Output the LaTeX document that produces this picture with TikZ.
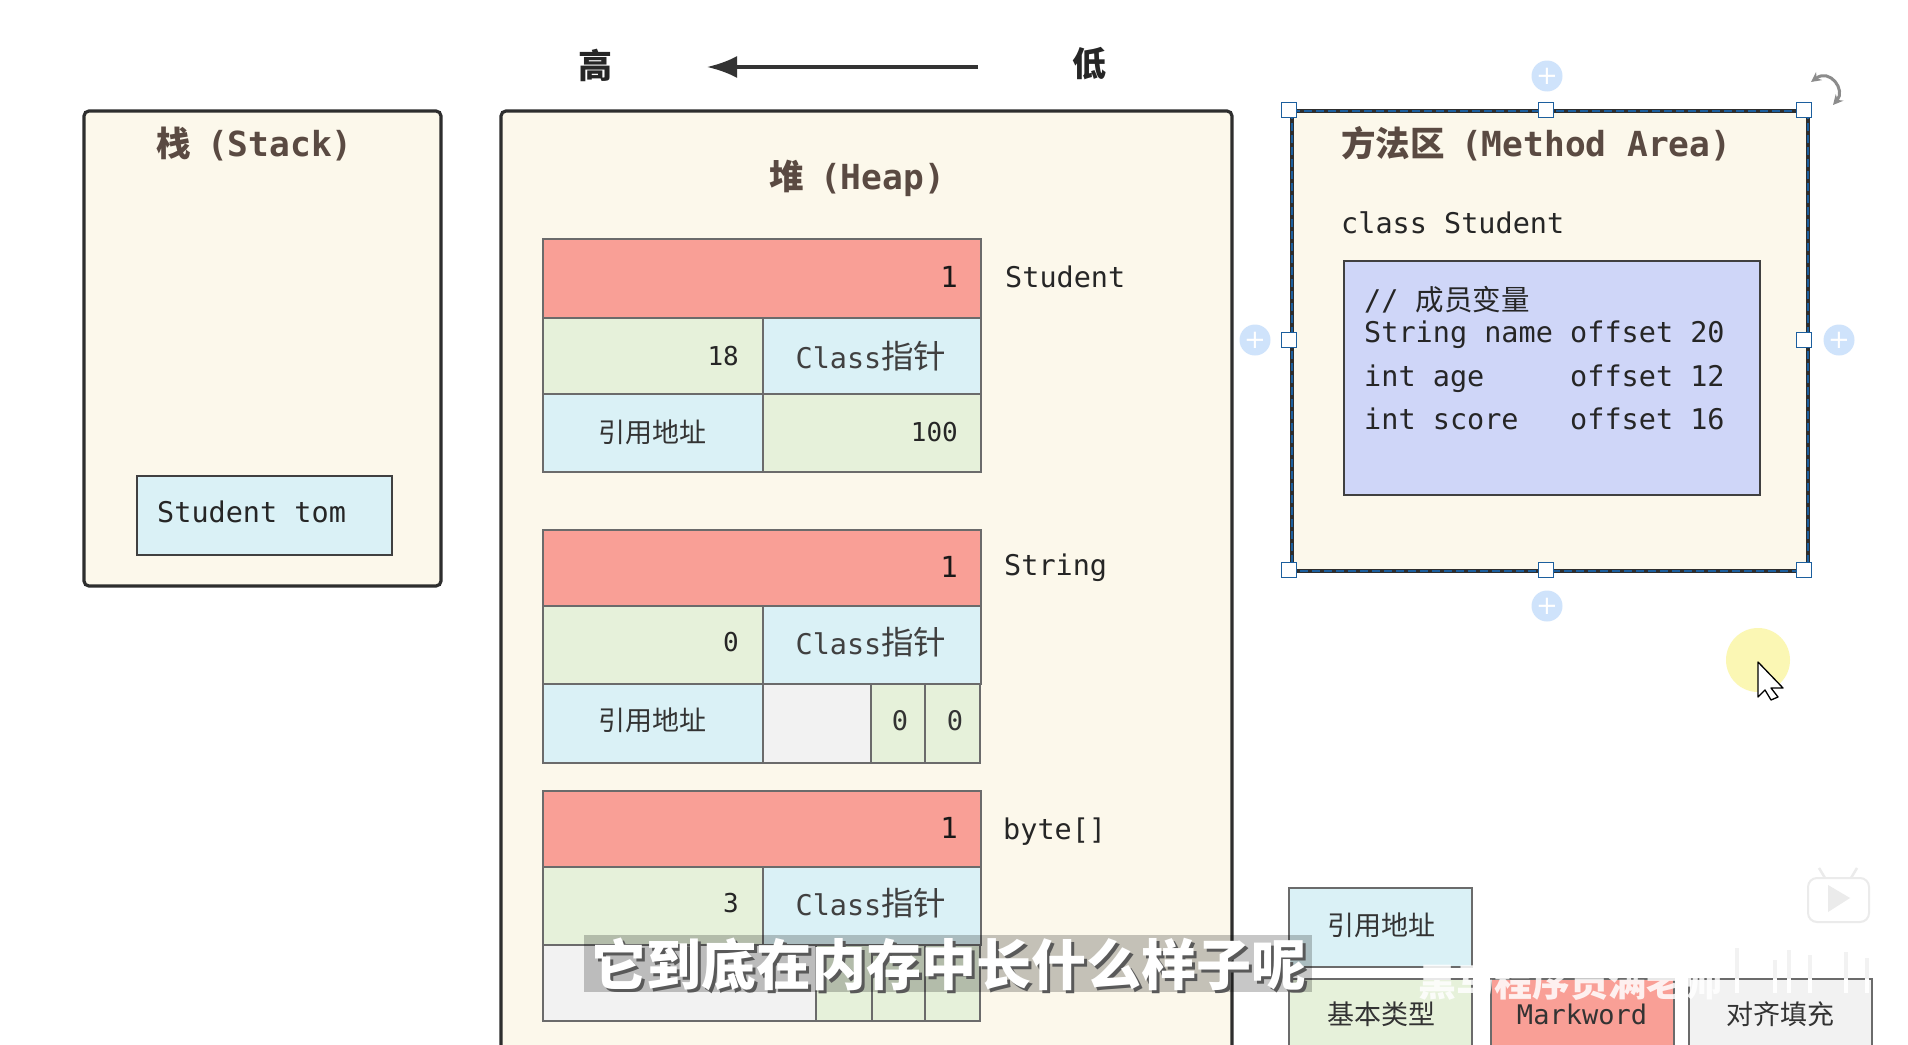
\documentclass[tikz,border=0pt]{standalone}
\usepackage{fontspec}
\setmainfont{DejaVu Sans}
\setmonofont{DejaVu Sans Mono}
\newfontfamily\cjk{Noto Sans CJK SC}
\usetikzlibrary{arrows.meta}
\def\zh#1{{\cjk #1}}
\def\zhbig#1{{\fontsize{32.5}{34}\selectfont\cjk #1}}
\def\zhhead#1{{\cjk\bfseries #1}\hspace{16.5pt}}
\definecolor{paper}{HTML}{FCF8EB}
\definecolor{markred}{HTML}{F99F96}
\definecolor{basegreen}{HTML}{E6F1DA}
\definecolor{refblue}{HTML}{DAF1F6}
\definecolor{padgray}{HTML}{F2F2F2}
\definecolor{lavender}{HTML}{CFD6F8}
\definecolor{titlebrown}{HTML}{5A4A42}
\definecolor{selblue}{HTML}{1C5F9E}
\definecolor{plusblue}{HTML}{CFE3FB}
\definecolor{glow}{HTML}{FBF7B4}
\tikzset{
	areabox/.style={fill=paper, draw=black!82, line width=3.2pt, rounded corners=5pt},
	cell/.style={draw=black!58, line width=1.5pt},
	codebox/.style={fill=lavender, draw=black!75, line width=1.5pt},
	titletxt/.style={font=\fontsize{34.5}{36}\selectfont\ttfamily\bfseries, text=titlebrown, anchor=west, inner sep=0pt},
	monotxt/.style={font=\fontsize{28.5}{30}\selectfont\ttfamily, text=black!85, anchor=west, inner sep=0pt, text height=25pt, text depth=3pt},
	numtxt/.style={font=\fontsize{26}{30}\selectfont\ttfamily, text=black!85, anchor=east, inner sep=0pt},
	onetxt/.style={font=\fontsize{29}{30}\selectfont\ttfamily, text=black!90, anchor=east, inner sep=0pt},
	midtxt/.style={font=\fontsize{27}{30}\selectfont\ttfamily, text=black!80, inner sep=0pt},
	classtxt/.style={font=\fontsize{28.5}{30}\selectfont\ttfamily, text=black!75, inner sep=0pt},
	handle/.style={draw=selblue, fill=white, line width=1.3pt, minimum size=15pt, inner sep=0pt},
	plusdot/.style={circle, fill=plusblue, minimum size=31pt, inner sep=0pt, text=white, font=\fontsize{26}{26}\selectfont},
	hilotxt/.style={font=\fontsize{34}{36}\selectfont\cjk\bfseries, text=black!85, inner sep=0pt},
}

\begin{document}
\begin{tikzpicture}[x=1pt, y=-1pt]
		%%%%% START %%%%%
		\clip (0, 0) rectangle (1908, 1044);
		\fill[white] (0, 0) rectangle (1908, 1044);
		
		\node[hilotxt] (high) at (595, 65) {高};
		\node[hilotxt] (low) at (1089, 64) {低};
		\coordinate (arrowstart) at (978, 67);
		\coordinate (arrowtip) at (707, 67);
		\draw[line width=3.6pt, draw=black!80, -{Latex[length=30pt, width=22pt]}] (arrowstart) -- (arrowtip);
		
		% stack
		\draw[areabox] (84, 111) rectangle (441, 586);
		\node[titletxt] (stacktitle) at (156, 144) {\zhhead{栈}(Stack)};
		\draw[fill=refblue, draw=black!75, line width=1.5pt] (137, 476) rectangle (392, 555);
		\node[monotxt] (tom) at (157, 511) {Student tom};
		
		% heap
		\draw[areabox] (501, 111) rectangle (1232, 1070);
		\node[titletxt] (heaptitle) at (769, 178) {\zhhead{堆}(Heap)};
		
		\draw[cell, fill=markred] (543, 239) rectangle (981, 318);
		\draw[cell, fill=basegreen] (543, 318) rectangle (763, 394);
		\draw[cell, fill=refblue] (763, 318) rectangle (981, 394);
		\draw[cell, fill=refblue] (543, 394) rectangle (763, 472);
		\draw[cell, fill=basegreen] (763, 394) rectangle (981, 472);
		\node[onetxt] (markone) at (958, 277) {1};
		\node[numtxt] (ageval) at (739, 356) {18};
		\node[classtxt] (classone) at (871, 356) {Class\zhbig{指针}};
		\node[midtxt] (refone) at (652, 432) {\zh{引用地址}};
		\node[numtxt] (scoreval) at (958, 432) {100};
		\node[monotxt] (studentlabel) at (1005, 276) {Student};
		
		\draw[cell, fill=markred] (543, 530) rectangle (981, 606);
		\draw[cell, fill=basegreen] (543, 606) rectangle (763, 684);
		\draw[cell, fill=refblue] (763, 606) rectangle (981, 684);
		\draw[cell, fill=refblue] (543, 684) rectangle (763, 763);
		\draw[cell, fill=padgray] (763, 684) rectangle (871, 763);
		\draw[cell, fill=basegreen] (871, 684) rectangle (925, 763);
		\draw[cell, fill=basegreen] (925, 684) rectangle (980, 763);
		\node[onetxt] (marktwo) at (958, 567) {1};
		\node[numtxt] (hashval) at (739, 642) {0};
		\node[classtxt] (classtwo) at (871, 642) {Class\zhbig{指针}};
		\node[midtxt] (reftwo) at (652, 720) {\zh{引用地址}};
		\node[midtxt] (codera) at (900, 721) {0};
		\node[midtxt] (coderb) at (955, 721) {0};
		\node[monotxt] (stringlabel) at (1004, 564) {String};
		
		\draw[cell, fill=markred] (543, 791) rectangle (981, 867);
		\draw[cell, fill=basegreen] (543, 867) rectangle (763, 945);
		\draw[cell, fill=refblue] (763, 867) rectangle (981, 945);
		\draw[cell, fill=padgray] (543, 945) rectangle (816, 1021);
		\draw[cell, fill=basegreen] (816, 945) rectangle (872, 1021);
		\draw[cell, fill=basegreen] (872, 945) rectangle (925, 1021);
		\draw[cell, fill=basegreen] (925, 945) rectangle (980, 1021);
		\node[onetxt] (markthree) at (958, 828) {1};
		\node[numtxt] (lenval) at (739, 903) {3};
		\node[classtxt] (classthree) at (871, 903) {Class\zhbig{指针}};
		\node[monotxt] (bytelabel) at (1003, 828) {byte[]};
		
		% method area
		\draw[areabox, rounded corners=0pt] (1292, 111) rectangle (1808, 571);
		\draw[selblue, line width=2.2pt, dash pattern=on 8pt off 4pt] (1292, 111) rectangle (1808, 571);
		\node[titletxt] (methodtitle) at (1341, 144) {\zhhead{方法区}(Method Area)};
		\node[monotxt] (classname) at (1341, 222) {class Student};
		\draw[codebox] (1344, 261) rectangle (1760, 495);
		\node[monotxt] (comment) at (1364, 299) {// \zh{成员变量}};
		\node[monotxt] (fieldname) at (1364, 331) {String name};
		\node[monotxt] (offsetname) at (1570, 331) {offset 20};
		\node[monotxt] (fieldage) at (1364, 375) {int age};
		\node[monotxt] (offsetage) at (1570, 375) {offset 12};
		\node[monotxt] (fieldscore) at (1364, 418) {int score};
		\node[monotxt] (offsetscore) at (1570, 418) {offset 16};
		
		\node[handle] (hnw) at (1289, 110) {};
		\node[handle] (hn) at (1546, 110) {};
		\node[handle] (hne) at (1804, 110) {};
		\node[handle] (hw) at (1289, 340) {};
		\node[handle] (he) at (1804, 340) {};
		\node[handle] (hsw) at (1289, 570) {};
		\node[handle] (hs) at (1546, 570) {};
		\node[handle] (hse) at (1804, 570) {};
		\node[plusdot] (plusn) at (1547, 76) {+};
		\node[plusdot] (pluss) at (1547, 606) {+};
		\node[plusdot] (plusw) at (1255, 340) {+};
		\node[plusdot] (pluse) at (1839, 340) {+};
		\coordinate (rotstart) at (1811, 82);
		\coordinate (rotend) at (1833, 105);
		\draw[draw=black!45, line width=3pt, {Stealth[length=10pt, width=10pt]}-{Stealth[length=10pt, width=10pt]}] (rotstart) .. controls (1830, 68) and (1846, 90) .. (rotend);
		
		% legend
		\draw[cell, fill=refblue] (1289, 888) rectangle (1472, 967);
		\node[midtxt] (legendref) at (1381, 925) {\zh{引用地址}};
		\draw[cell, fill=basegreen] (1289, 979) rectangle (1472, 1070);
		\node[midtxt] (legendbase) at (1381, 1014) {\zh{基本类型}};
		\draw[cell, fill=markred] (1491, 979) rectangle (1674, 1070);
		\node[midtxt] (legendmark) at (1582, 1014) {Markword};
		\draw[cell, fill=padgray] (1689, 979) rectangle (1872, 1070);
		\node[midtxt] (legendpad) at (1780, 1014) {\zh{对齐填充}};
		
		% cursor
		\fill[glow] (1758, 660) ellipse (32 and 32);
		\draw[black, fill=white, line width=1.3pt, line join=round] (1758, 662) -- (1758, 697) -- (1765, 690) -- (1771, 700) -- (1778, 697) -- (1771, 688) -- (1783, 688) -- cycle;
		
		% player badge
		\draw[black!8, fill=white, line width=2pt, rounded corners=9pt] (1808, 878) rectangle (1869, 922);
		\draw[black!8, line width=2.5pt] (1825, 878) -- (1819, 868);
		\draw[black!8, line width=2.5pt] (1851, 878) -- (1857, 868);
		\fill[black!8] (1828, 885) -- (1828, 912) -- (1850, 898) -- cycle;
		
		% watermark
		\draw[black!5, line width=4pt] (1737, 948) -- (1737, 979) (1775, 960) -- (1775, 979) (1789, 950) -- (1789, 979) (1810, 955) -- (1810, 979) (1846, 952) -- (1846, 979) (1867, 958) -- (1867, 979);
		\draw[white, line width=4pt] (1737, 979) -- (1737, 993) (1775, 979) -- (1775, 993) (1789, 979) -- (1789, 993) (1810, 979) -- (1810, 993) (1846, 979) -- (1846, 993) (1867, 979) -- (1867, 993);
		\node[font=\fontsize{38}{40}\selectfont\cjk\bfseries, text=white, opacity=.85, inner sep=0pt] (mark) at (1570, 982) {黑马程序员满老师};
		
		% subtitle
		\fill[black, opacity=.22] (584, 935) rectangle (1312, 992);
		\node[font=\fontsize{55}{58}\selectfont\cjk\bfseries, text=black!65, inner sep=0pt] (captionshade) at (952, 967) {它到底在内存中长什么样子呢};
		\node[font=\fontsize{55}{58}\selectfont\cjk\bfseries, text=white, inner sep=0pt] (caption) at (949, 964) {它到底在内存中长什么样子呢};
		
		%%%%% END %%%%%
	\end{tikzpicture}
\end{document}
